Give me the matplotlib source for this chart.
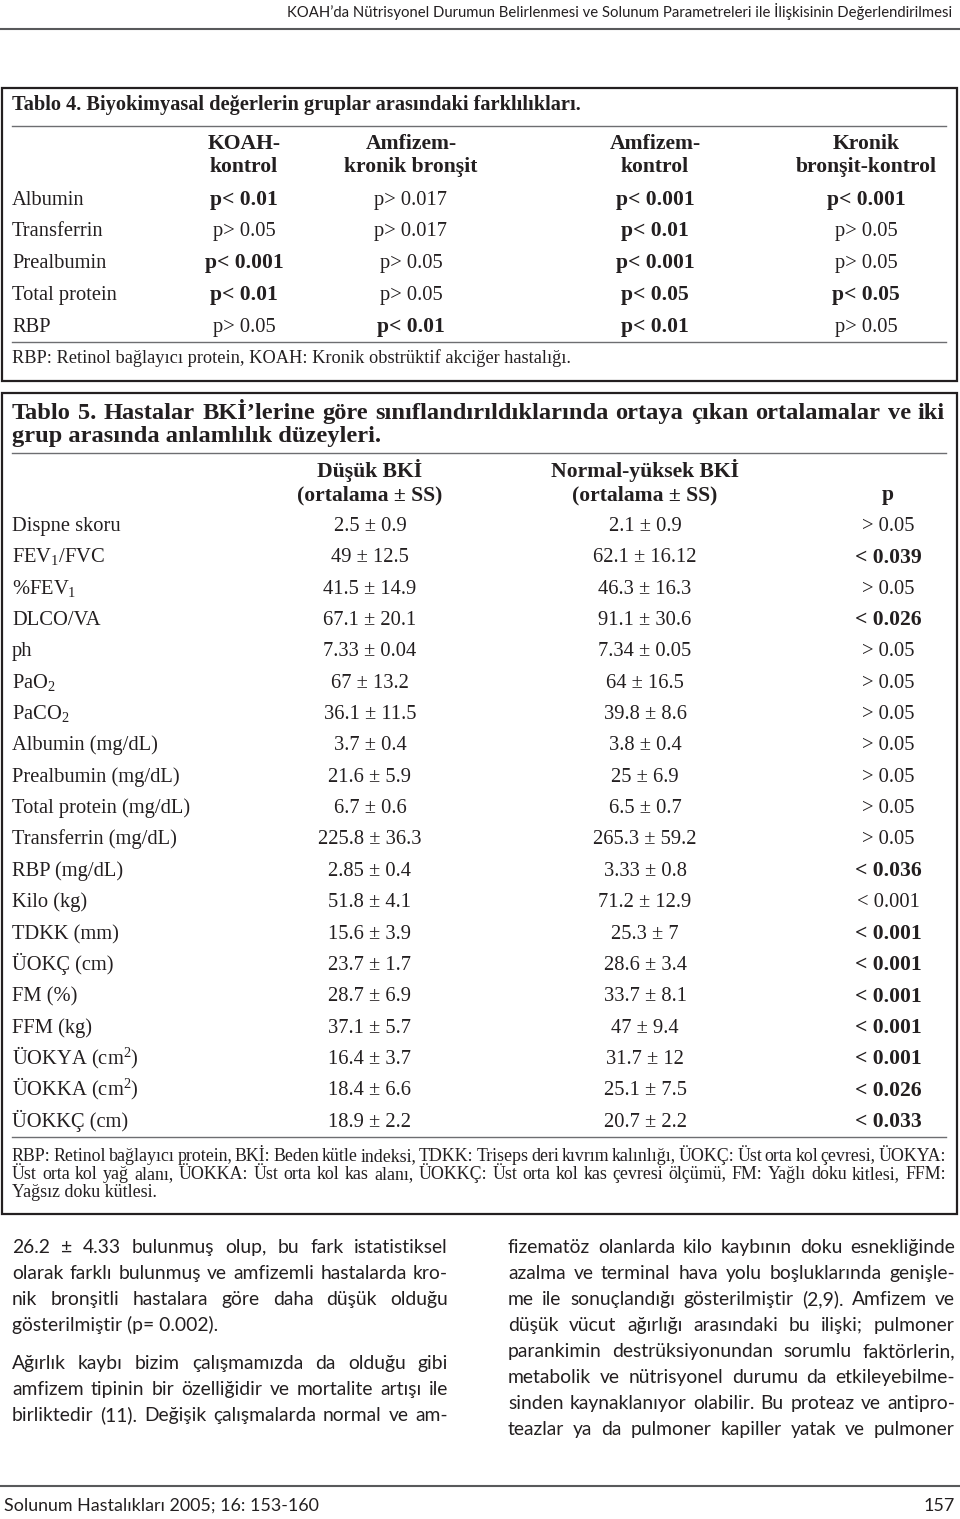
import matplotlib
matplotlib.use("Agg")
import matplotlib.pyplot as plt
from matplotlib.patches import Rectangle
from matplotlib.lines import Line2D

W, H = 960, 1519
plt.rcParams['mathtext.fontset'] = 'custom'
plt.rcParams['mathtext.rm'] = 'Liberation Serif'
plt.rcParams['mathtext.it'] = 'Liberation Serif'
plt.rcParams['mathtext.bf'] = 'Liberation Serif:bold'

SERIF = ['Liberation Serif', 'DejaVu Serif']
SANS = ['Lato', 'DejaVu Sans']

# ---------------- data ----------------
header_text = "KOAH’da Nütrisyonel Durumun Belirlenmesi ve Solunum Parametreleri ile İlişkisinin Değerlendirilmesi"
t4_title = "Tablo 4. Biyokimyasal değerlerin gruplar arasındaki farklılıkları."
t4_cols_line1 = ["KOAH-", "Amfizem-", "Amfizem-", "Kronik"]
t4_cols_line2 = ["kontrol", "kronik bronşit", "kontrol", "bronşit-kontrol"]
t4_rows = ["Albumin", "Transferrin", "Prealbumin", "Total protein", "RBP"]
t4_vals = [
    ["p< 0.01", "p> 0.017", "p< 0.001", "p< 0.001"],
    ["p> 0.05", "p> 0.017", "p< 0.01", "p> 0.05"],
    ["p< 0.001", "p> 0.05", "p< 0.001", "p> 0.05"],
    ["p< 0.01", "p> 0.05", "p< 0.05", "p< 0.05"],
    ["p> 0.05", "p< 0.01", "p< 0.01", "p> 0.05"],
]
t4_bold = [
    [1, 0, 1, 1],
    [0, 0, 1, 0],
    [1, 0, 1, 0],
    [1, 0, 1, 1],
    [0, 1, 1, 0],
]
t4_note = "RBP: Retinol bağlayıcı protein, KOAH: Kronik obstrüktif akciğer hastalığı."

t5_title = ["Tablo 5. Hastalar BKİ’lerine göre sınıflandırıldıklarında ortaya çıkan ortalamalar ve iki",
            "grup arasında anlamlılık düzeyleri."]
t5_head1 = ["Düşük BKİ", "Normal-yüksek BKİ", ""]
t5_head2 = ["(ortalama ± SS)", "(ortalama ± SS)", "p"]
t5_rows = ["Dispne skoru", r"FEV$_1$/FVC", r"%FEV$_1$", "DLCO/VA", "ph", r"PaO$_2$", r"PaCO$_2$",
           "Albumin (mg/dL)", "Prealbumin (mg/dL)", "Total protein (mg/dL)", "Transferrin (mg/dL)",
           "RBP (mg/dL)", "Kilo (kg)", "TDKK (mm)", "ÜOKÇ (cm)", "FM (%)", "FFM (kg)",
           r"ÜOKYA (cm$^2$)", r"ÜOKKA (cm$^2$)", "ÜOKKÇ (cm)"]
t5_low = ["2.5 ± 0.9", "49 ± 12.5", "41.5 ± 14.9", "67.1 ± 20.1", "7.33 ± 0.04", "67 ± 13.2",
          "36.1 ± 11.5", "3.7 ± 0.4", "21.6 ± 5.9", "6.7 ± 0.6", "225.8 ± 36.3", "2.85 ± 0.4",
          "51.8 ± 4.1", "15.6 ± 3.9", "23.7 ± 1.7", "28.7 ± 6.9", "37.1 ± 5.7", "16.4 ± 3.7",
          "18.4 ± 6.6", "18.9 ± 2.2"]
t5_high = ["2.1 ± 0.9", "62.1 ± 16.12", "46.3 ± 16.3", "91.1 ± 30.6", "7.34 ± 0.05", "64 ± 16.5",
           "39.8 ± 8.6", "3.8 ± 0.4", "25 ± 6.9", "6.5 ± 0.7", "265.3 ± 59.2", "3.33 ± 0.8",
           "71.2 ± 12.9", "25.3 ± 7", "28.6 ± 3.4", "33.7 ± 8.1", "47 ± 9.4", "31.7 ± 12",
           "25.1 ± 7.5", "20.7 ± 2.2"]
t5_p = ["> 0.05", "< 0.039", "> 0.05", "< 0.026", "> 0.05", "> 0.05", "> 0.05", "> 0.05", "> 0.05",
        "> 0.05", "> 0.05", "< 0.036", "< 0.001", "< 0.001", "< 0.001", "< 0.001", "< 0.001",
        "< 0.001", "< 0.026", "< 0.033"]
t5_pbold = [0, 1, 0, 1, 0, 0, 0, 0, 0, 0, 0, 1, 0, 1, 1, 1, 1, 1, 1, 1]
t5_note = [
    "RBP: Retinol bağlayıcı protein, BKİ: Beden kütle indeksi, TDKK: Triseps deri kıvrım kalınlığı, ÜOKÇ: Üst orta kol çevresi, ÜOKYA:",
    "Üst orta kol yağ alanı, ÜOKKA: Üst orta kol kas alanı, ÜOKKÇ: Üst orta kol kas çevresi ölçümü, FM: Yağlı doku kitlesi, FFM:",
    "Yağsız doku kütlesi.",
]

left_col = [
    "26.2 ± 4.33 bulunmuş olup, bu fark istatistiksel",
    "olarak farklı bulunmuş ve amfizemli hastalarda kro-",
    "nik bronşitli hastalara göre daha düşük olduğu",
    "gösterilmiştir (p= 0.002).",
    "",
    "Ağırlık kaybı bizim çalışmamızda da olduğu gibi",
    "amfizem tipinin bir özelliğidir ve mortalite artışı ile",
    "birliktedir (11). Değişik çalışmalarda normal ve am-",
]
left_y = [1246, 1272, 1298, 1324, None, 1362, 1388, 1414]
left_just = [1, 1, 1, 0, 0, 1, 1, 1]
right_col = [
    "fizematöz olanlarda kilo kaybının doku esnekliğinde",
    "azalma ve terminal hava yolu boşluklarında genişle-",
    "me ile sonuçlandığı gösterilmiştir (2,9). Amfizem ve",
    "düşük vücut ağırlığı arasındaki bu ilişki; pulmoner",
    "parankimin destrüksiyonundan sorumlu faktörlerin,",
    "metabolik ve nütrisyonel durumu da etkileyebilme-",
    "sinden kaynaklanıyor olabilir. Bu proteaz ve antipro-",
    "teazlar ya da pulmoner kapiller yatak ve pulmoner",
]
right_y = [1246, 1272, 1298, 1324, 1350, 1376, 1402, 1428]
footer_left = "Solunum Hastalıkları 2005; 16: 153-160"
footer_right = "157"

# sizes
REG = 14.8
BOLD = 15.6
TITLE4 = 14.7
TITLE5 = 17.6
BODY = 13.9

# ---------------- drawing ----------------
fig = plt.figure(figsize=(W / 100, H / 100), dpi=100)
fig.patch.set_facecolor('white')
renderer = fig.canvas.get_renderer()


def fx(x):
    return x / W


def fy(y):
    return 1 - y / H


def txt(x, y, s, ha='left', size=REG, bold=False, family=SERIF, color='#231f20'):
    # y is the visual centre of the capital letters; place on an integer-pixel baseline
    base = round(y + 0.34 * size * 100 / 72)
    return fig.text(fx(x), fy(base), s, ha=ha, va='baseline', fontsize=size,
                    fontweight='bold' if bold else 'normal', family=family, color=color)


def hline(x0, x1, y, lw=1.0, color='#6d6e71'):
    fig.add_artist(Line2D([fx(x0), fx(x1)], [fy(y), fy(y)], lw=lw, color=color,
                          transform=fig.transFigure))


def box(x0, y0, x1, y1):
    fig.add_artist(Rectangle((fx(x0), fy(y1)), fx(x1) - fx(x0), fy(y0) - fy(y1),
                             fill=False, lw=1.6, edgecolor='#231f20', transform=fig.transFigure))


def justify(line, x0, x1, y, size, family, bold=False):
    words = line.split(' ')
    objs = [txt(x0, y, w, size=size, family=family, bold=bold) for w in words]
    widths = [o.get_window_extent(renderer).width for o in objs]
    gap = (x1 - x0 - sum(widths)) / max(len(words) - 1, 1)
    x = x0
    for o, w in zip(objs, widths):
        o.set_x(fx(x))
        x += w + gap


# page header
txt(952, 12, header_text, ha='right', size=10.7, family=SANS)
hline(0, 960, 29, lw=1.5, color='#58595b')

# Table 4
box(2, 88, 957, 381)
txt(12, 103, t4_title, size=TITLE4, bold=True)
hline(12, 946, 126)
t4_x = [244, 411, 655, 866]
for i, (a, b) in enumerate(zip(t4_cols_line1, t4_cols_line2)):
    txt(t4_x[i], 142, a, ha='center', size=BOLD, bold=True)
    txt(t4_x[i], 165, b, ha='center', size=BOLD, bold=True)
t4_y = [198, 229, 261, 293, 325]
for r, name in enumerate(t4_rows):
    txt(12, t4_y[r], name)
    for c in range(4):
        b = bool(t4_bold[r][c])
        txt(t4_x[c], t4_y[r], t4_vals[r][c], ha='center', size=BOLD if b else REG, bold=b)
hline(12, 946, 342)
txt(12, 357, t4_note, size=13.2)

# Table 5
box(2, 393, 957, 1214)
justify(t5_title[0], 12, 945, 411, TITLE5, SERIF, bold=True)
txt(12, 434, t5_title[1], size=TITLE5, bold=True)
hline(12, 946, 453)
t5_x = [370, 645, 888]
for i in range(3):
    if t5_head1[i]:
        txt(t5_x[i], 470, t5_head1[i], ha='center', size=BOLD, bold=True)
    txt(t5_x[i], 493, t5_head2[i], ha='center', size=BOLD, bold=True)
y0, dy = 524, 31.35
for r, name in enumerate(t5_rows):
    y = y0 + r * dy
    txt(12, y, name)
    txt(t5_x[0], y, t5_low[r], ha='center')
    txt(t5_x[1], y, t5_high[r], ha='center')
    b = bool(t5_pbold[r])
    txt(t5_x[2], y, t5_p[r], ha='center', size=BOLD if b else REG, bold=b)
hline(12, 946, 1137)
for i, line in enumerate(t5_note):
    if i < 2:
        justify(line, 12, 946, 1155 + i * 18, 12.9, SERIF)
    else:
        txt(12, 1155 + i * 18, line, size=12.9)

# body text
for line, y, j in zip(left_col, left_y, left_just):
    if not line:
        continue
    if j:
        justify(line, 12, 448, y, BODY, SANS)
    else:
        txt(12, y, line, size=BODY, family=SANS)
for line, y in zip(right_col, right_y):
    justify(line, 508, 955, y, BODY, SANS)

# footer
hline(0, 960, 1486, lw=1.5, color='#58595b')
txt(4, 1505, footer_left, size=12.9, family=SANS)
txt(955, 1505, footer_right, ha='right', size=12.9, family=SANS)

fig.savefig('out.png', dpi=100, facecolor='white')
